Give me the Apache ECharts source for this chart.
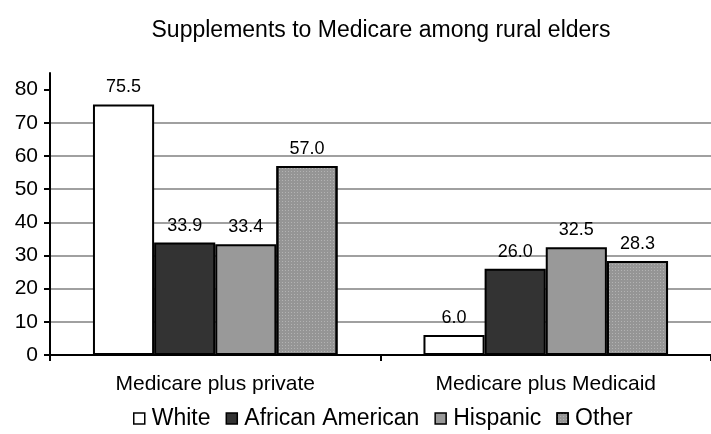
<!DOCTYPE html>
<html><head><meta charset="utf-8">
<script src="https://cdn.jsdelivr.net/npm/echarts@6/dist/echarts.min.js"></script>
<style>html,body{margin:0;padding:0;background:#fff}#c{width:711px;height:434px}</style>
</head><body><div id="c"></div>
<script>
var categories = ['Medicare plus private', 'Medicare plus Medicaid'];
var seriesNames = ['White', 'African American', 'Hispanic', 'Other'];
var white = [75.5, 6.0];
var africanAmerican = [33.9, 26.0];
var hispanic = [33.4, 32.5];
var other = [57.0, 28.3];
var yTicks = [0, 10, 20, 30, 40, 50, 60, 70, 80];
var title = 'Supplements to Medicare among rural elders';

var colors = ['#ffffff', '#333333', '#999999', '#959595'];
var values = [white, africanAmerican, hispanic, other];
var font = 'Liberation Sans, Arial, sans-serif';

var chart = echarts.init(document.getElementById('c'));
chart.setOption({
  animation: false,
  title: { text: title, left: 376, top: 14, textAlign: 'center',
    textStyle: { fontFamily: font, fontSize: 23, fontWeight: 'normal', color: '#000' } },
  legend: { top: 402, left: 128, itemWidth: 11, itemHeight: 11, itemGap: 15,
    icon: 'rect',
    textStyle: { fontFamily: font, fontSize: 23, color: '#000', padding: [0, 0, 0, 2] },
    itemStyle: { borderColor: '#000', borderWidth: 1.5 } },
  grid: { left: 50, right: -7, top: 73, bottom: 79, containLabel: false },
  xAxis: { type: 'category', data: categories,
    axisLine: { lineStyle: { color: '#000', width: 2 } },
    axisTick: { show: true, length: 6, lineStyle: { color: '#000', width: 2 } },
    axisLabel: { fontFamily: font, fontSize: 21, color: '#000', margin: 19 } },
  yAxis: { type: 'value', min: 0, max: 85, interval: 10,
    axisLine: { show: true, lineStyle: { color: '#000', width: 2 } },
    axisTick: { show: true, length: 6, customValues: yTicks, lineStyle: { color: '#000', width: 2 } },
    axisLabel: { fontFamily: font, fontSize: 21, color: '#000', margin: 12, customValues: yTicks },
    splitLine: { show: true, showMaxLine: false, lineStyle: { color: '#a0a0a0', width: 2 } } },
  series: seriesNames.map(function (n, i) {
    var style = { color: colors[i], borderColor: '#000', borderWidth: 2 };
    if (i === 3) {
      style.decal = { symbol: 'rect', symbolSize: 1, color: 'rgba(200,200,200,0.6)',
        dashArrayX: [1, 2], dashArrayY: [1, 2], rotation: 0 };
    }
    return { name: n, type: 'bar', data: values[i], barGap: '0%', barCategoryGap: '26%',
      itemStyle: style,
      label: { show: true, position: 'top', distance: 8, fontFamily: font, fontSize: 18, color: '#000',
        formatter: function (p) { return p.value.toFixed(1); } } };
  })
});
</script></body></html>
